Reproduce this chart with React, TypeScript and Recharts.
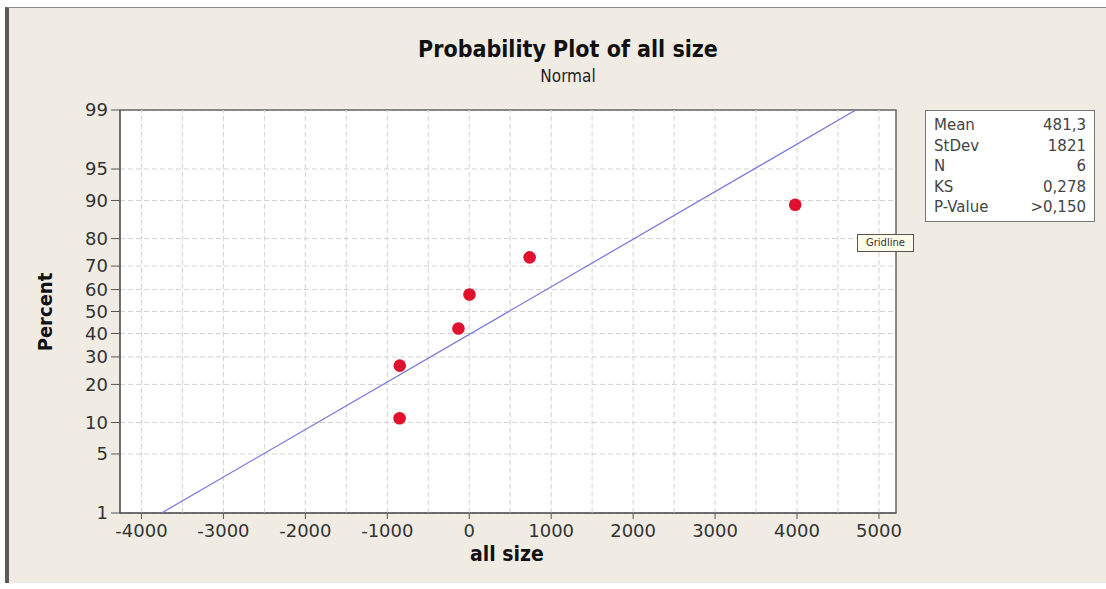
import React from 'react';
import {
  ScatterChart,
  Scatter,
  XAxis,
  YAxis,
  CartesianGrid,
  ReferenceLine,
  ReferenceArea,
} from 'recharts';

// observed values (all size) and their median-rank percentiles
const sizes = [-850, -848, -132, 3, 737, 3978];
const percents = [10.9, 26.6, 42.2, 57.8, 73.4, 89.1];

// fitted normal line, read at the 1% and 99% edges
const fitSizes = [-3755, 4717];
const fitPercents = [1, 99];

const percentTicks = [1, 5, 10, 20, 30, 40, 50, 60, 70, 80, 90, 95, 99];
const sizeTicks = [-4000, -3000, -2000, -1000, 0, 1000, 2000, 3000, 4000, 5000];
const gridSizes = [-4000, -3500, -3000, -2500, -2000, -1500, -1000, -500, 0, 500, 1000, 1500, 2000, 2500, 3000, 3500, 4000, 4500, 5000];

const statLabels = ['Mean', 'StDev', 'N', 'KS', 'P-Value'];
const statValues = ['481,3', '1821', '6', '0,278', '>0,150'];

// inverse normal cdf (Acklam), used as the probability scale transform
function normInv(p: number): number {
  const a = [-39.69683028665376, 220.9460984245205, -275.9285104469687, 138.357751867269, -30.66479806614716, 2.506628277459239];
  const b = [-54.47609879822406, 161.5858368580409, -155.6989798598866, 66.80131188771972, -13.28068155288572];
  const c = [-0.007784894002430293, -0.3223964580411365, -2.400758277161838, -2.549732539343734, 4.374664141464968, 2.938163982698783];
  const d = [0.007784695709041462, 0.3224671290700398, 2.445134137142996, 3.754408661907416];
  const pl = 0.02425;
  if (p < pl) {
    const q = Math.sqrt(-2 * Math.log(p));
    return (((((c[0] * q + c[1]) * q + c[2]) * q + c[3]) * q + c[4]) * q + c[5]) / ((((d[0] * q + d[1]) * q + d[2]) * q + d[3]) * q + 1);
  }
  if (p <= 1 - pl) {
    const q = p - 0.5;
    const r = q * q;
    return ((((((a[0] * r + a[1]) * r + a[2]) * r + a[3]) * r + a[4]) * r + a[5]) * q) / (((((b[0] * r + b[1]) * r + b[2]) * r + b[3]) * r + b[4]) * r + 1);
  }
  const q = Math.sqrt(-2 * Math.log(1 - p));
  return -(((((c[0] * q + c[1]) * q + c[2]) * q + c[3]) * q + c[4]) * q + c[5]) / ((((d[0] * q + d[1]) * q + d[2]) * q + d[3]) * q + 1);
}

const z = (pct: number) => normInv(pct / 100);

const points = sizes.map((x, i) => ({ x, z: z(percents[i]) }));
const fitLine = fitSizes.map((x, i) => ({ x, z: z(fitPercents[i]) }));
const zTicks = percentTicks.map(z);
const zMin = z(1);
const zMax = z(99);
const xMin = -4262;
const xMax = 5208;

const FONT = "'DejaVu Sans', sans-serif";
const FONT_COND = "'DejaVu Sans Condensed', 'DejaVu Sans', sans-serif";

const Dot = (props: any) => {
  const { cx, cy } = props;
  return <circle cx={cx} cy={cy} r={6.3} fill="#e0102e" />;
};

export default function App() {
  const tickStyle = { fontSize: 18, fill: '#333', fontFamily: FONT };

  return (
    <div style={{ position: 'absolute', left: 0, top: 0, width: 1106, height: 589, background: '#fff', overflow: 'hidden' }}>
      {/* graph window frame */}
      <div
        style={{
          position: 'absolute',
          left: 5,
          top: 7,
          width: 1101,
          height: 575,
          background: '#f0ece4',
          borderLeft: '4px solid #5a5a5a',
          borderTop: '1px solid #888',
        }}
      />

      <div style={{ position: 'absolute', left: 0, top: 0 }}>
        <ScatterChart width={1106} height={589} margin={{ top: 110, right: 210, bottom: 36, left: 20 }}>
          <CartesianGrid vertical={false} fill="#ffffff" stroke="#d2d2d2" strokeDasharray="5 3" />
          {gridSizes.map((g) => (
            <ReferenceLine key={g} x={g} stroke="#d2d2d2" strokeDasharray="5 3" />
          ))}
          <XAxis
            dataKey="x"
            type="number"
            domain={[xMin, xMax]}
            ticks={sizeTicks}
            allowDataOverflow
            height={40}
            tickSize={6}
            tickMargin={5}
            tick={tickStyle}
            stroke="#555"
          />
          <YAxis
            dataKey="z"
            type="number"
            domain={[zMin, zMax]}
            ticks={zTicks}
            allowDataOverflow
            interval={0}
            width={100}
            tickSize={9}
            tickMargin={3}
            tick={tickStyle}
            stroke="#555"
            tickFormatter={(v: number) => {
              const i = zTicks.findIndex((t) => Math.abs(t - v) < 1e-6);
              return i >= 0 ? String(percentTicks[i]) : '';
            }}
          />
          <ReferenceArea x1={xMin} x2={xMax} y1={zMin} y2={zMax} fill="none" fillOpacity={0} stroke="#666" strokeWidth={1.5} />
          <Scatter
            data={fitLine}
            line={{ stroke: '#7474dc', strokeWidth: 1.2 }}
            shape={() => <g />}
            isAnimationActive={false}
          />
          <Scatter data={points} shape={Dot} isAnimationActive={false} />
        </ScatterChart>
      </div>

      {/* titles */}
      <div style={{ position: 'absolute', left: 0, width: 1106, top: 36, textAlign: 'center', fontFamily: FONT_COND, fontWeight: 'bold', fontSize: 23, color: '#111', paddingLeft: 30, boxSizing: 'border-box' }}>
        Probability Plot of all size
      </div>
      <div style={{ position: 'absolute', left: 0, width: 1106, top: 66, textAlign: 'center', fontFamily: FONT_COND, fontSize: 17, color: '#222', paddingLeft: 30, boxSizing: 'border-box' }}>
        Normal
      </div>

      {/* axis titles */}
      <div style={{ position: 'absolute', left: 507 - 100, width: 200, top: 542, textAlign: 'center', fontFamily: FONT_COND, fontWeight: 'bold', fontSize: 21, color: '#111' }}>
        all size
      </div>
      <div
        style={{
          position: 'absolute',
          left: 45 - 60,
          top: 312 - 12,
          width: 120,
          height: 24,
          lineHeight: '24px',
          textAlign: 'center',
          transform: 'rotate(-90deg)',
          fontFamily: FONT_COND,
          fontWeight: 'bold',
          fontSize: 20,
          color: '#111',
        }}
      >
        Percent
      </div>

      {/* statistics table */}
      <div
        style={{
          position: 'absolute',
          left: 925,
          top: 110,
          width: 170,
          height: 112,
          background: '#fff',
          border: '1px solid #777',
          boxSizing: 'border-box',
          padding: '4px 8px 0 8px',
          fontFamily: FONT,
          fontSize: 15,
          color: '#444',
        }}
      >
        {statLabels.map((l, i) => (
          <div key={l} style={{ display: 'flex', justifyContent: 'space-between', height: 20.5, lineHeight: '20.5px' }}>
            <span>{l}</span>
            <span>{statValues[i]}</span>
          </div>
        ))}
      </div>

      {/* hover hint */}
      <div
        style={{
          position: 'absolute',
          left: 857,
          top: 234,
          width: 57,
          height: 18,
          background: '#fbfbe8',
          border: '1px solid #555',
          boxSizing: 'border-box',
          fontFamily: FONT,
          fontSize: 10,
          lineHeight: '16px',
          textAlign: 'center',
          color: '#333',
        }}
      >
        Gridline
      </div>
    </div>
  );
}
